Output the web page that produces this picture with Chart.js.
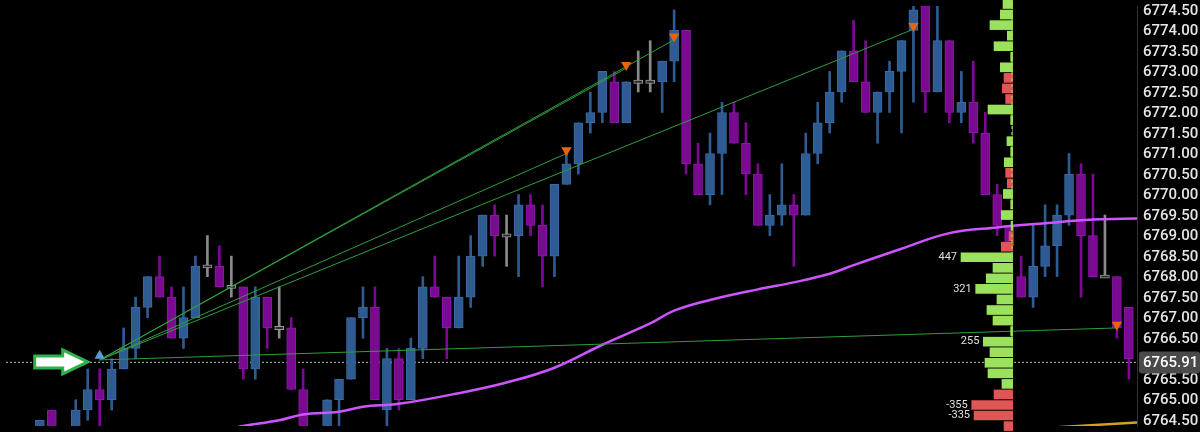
<!DOCTYPE html>
<html><head><meta charset="utf-8">
<script src="https://cdn.jsdelivr.net/npm/chart.js@4/dist/chart.umd.min.js"></script>
<style>html,body{margin:0;padding:0;background:#000;overflow:hidden}#wrap{position:relative;width:1200px;height:432px}canvas{position:absolute;left:0;top:0}</style>
</head><body><div id="wrap"><canvas id="main" width="1200" height="432"></canvas><canvas id="prof" width="1013" height="432"></canvas></div>
<script>
const opens =[6764.0,6764.75,null,6764.0,6764.75,6765.25,6765.0,6765.75,6766.25,6767.25,6768.0,6767.5,6766.5,6767.0,6768.25,6768.25,6767.75,6767.75,6765.75,6767.5,6766.75,6766.75,6765.25,null,6764.0,6765.0,6765.5,6767.0,6767.25,6764.75,6766.0,6765.0,6766.25,6767.75,6767.5,6766.75,6767.5,6768.5,6769.5,6769.0,6769.0,6769.75,6769.25,6768.5,6770.25,6770.75,6771.75,6772.0,6772.75,6771.75,6772.75,6772.75,6772.75,6773.25,6774.0,6770.75,6770.0,6771.0,6772.0,6771.25,6770.5,6769.25,6769.5,6769.75,6769.5,6771.0,6771.75,6772.5,6773.5,6772.75,6772.0,6772.5,6773.0,6774.0,6774.6,6772.5,6773.75,6772.0,6772.25,6771.5,6770.0,6769.25,6768.0,6767.5,6768.25,6768.75,6769.5,6770.5,6769.0,6768.0,6768.0,6767.25];
const closes=[6764.5,6764.0,null,6764.75,6765.25,6765.0,6765.75,6766.25,6767.25,6768.0,6767.5,6766.5,6767.0,6768.25,6768.25,6767.75,6767.75,6765.75,6767.5,6766.75,6766.75,6765.25,6764.0,null,6765.0,6765.5,6767.0,6767.25,6765.0,6766.0,6765.0,6766.25,6767.75,6767.5,6766.75,6767.5,6768.5,6769.5,6769.0,6769.0,6769.75,6769.25,6768.5,6770.25,6770.75,6771.75,6772.0,6773.0,6771.75,6772.75,6772.75,6772.75,6773.25,6774.0,6770.75,6770.0,6771.0,6772.0,6771.25,6770.5,6769.25,6769.5,6769.75,6769.5,6771.0,6771.75,6772.5,6773.5,6772.75,6772.0,6772.5,6773.0,6773.75,6774.5,6772.5,6773.75,6772.0,6772.25,6771.5,6770.0,6769.25,6768.75,6767.5,6768.25,6768.75,6769.5,6770.5,6769.0,6768.0,6768.0,6766.75,6766.0];
const highs =[6764.5,6764.75,null,6765.0,6765.75,6765.75,6766.0,6766.75,6767.5,6768.0,6768.5,6767.75,6767.75,6768.5,6769.0,6768.75,6768.5,6767.75,6767.75,6767.5,6767.75,6767.0,6765.75,null,6765.0,6765.5,6767.0,6767.75,6767.75,6766.25,6766.25,6766.5,6768.0,6768.5,6767.5,6768.5,6769.0,6769.5,6769.75,6769.5,6770.0,6770.0,6769.75,6770.25,6771.0,6771.75,6772.5,6773.0,6773.0,6772.75,6773.5,6773.75,6773.25,6774.5,6774.0,6771.25,6771.5,6772.25,6772.25,6771.75,6770.75,6770.0,6770.75,6770.0,6771.5,6772.25,6773.0,6773.5,6774.25,6773.75,6772.5,6773.25,6773.75,6774.6,6774.6,6774.6,6773.75,6773.0,6773.25,6772.0,6770.25,6769.25,6768.5,6769.25,6769.75,6769.75,6771.0,6770.75,6770.5,6769.5,6768.0,6767.25];
const lows  =[6764.0,6763.8,null,6763.8,6764.5,6764.0,6764.75,6765.75,6766.0,6767.0,6767.5,6766.5,6766.25,6767.0,6768.0,6767.75,6767.5,6765.5,6765.5,6766.25,6766.5,6765.25,6763.8,null,6763.8,6764.3,6765.5,6766.5,6765.0,6764.3,6764.75,6765.0,6766.0,6767.5,6766.0,6766.75,6767.25,6768.25,6768.5,6768.25,6768.0,6769.0,6767.75,6768.0,6770.25,6770.5,6771.5,6771.75,6771.75,6771.75,6772.5,6772.5,6772.0,6772.75,6770.5,6770.0,6769.75,6770.0,6771.25,6770.0,6769.25,6769.0,6769.25,6768.25,6769.5,6770.75,6771.5,6772.25,6772.75,6772.0,6771.25,6772.0,6771.5,6772.25,6772.0,6772.5,6771.75,6771.75,6771.25,6770.0,6769.0,6768.75,6767.5,6767.25,6768.0,6768.0,6769.25,6767.5,6768.0,6768.0,6766.5,6765.5];
const maIdx =[16,17,20,22,25,27,30,35,39,43,47,51,53,56,60,63,66,68,72,76,80,84,88,92];
const maVals=[6764.3,6764.36,6764.5,6764.64,6764.71,6764.83,6764.9,6765.16,6765.42,6765.78,6766.34,6766.86,6767.17,6767.43,6767.69,6767.86,6768.07,6768.28,6768.68,6769.06,6769.2,6769.3,6769.39,6769.42];
const signalIdx=5, signalPrice=6765.97;
const targetIdx=[44,49,53,73,90];
const targetPrices=[6771.0,6773.08,6773.77,6774.03,6766.75];
const lastPrice=6765.91;
const tickValues=[6764.5,6765.0,6765.5,6766.0,6766.5,6767.0,6767.5,6768.0,6768.5,6769.0,6769.5,6770.0,6770.5,6771.0,6771.5,6772.0,6772.5,6773.0,6773.5,6774.0,6774.5];
const profPrices=[6774.5,6774.25,6774.0,6773.75,6773.5,6773.25,6773.0,6772.75,6772.5,6772.25,6772.0,6771.75,6771.5,6771.25,6771.0,6770.75,6770.5,6770.25,6770.0,6769.75,6769.5,6769.25,6769.0,6768.75,6768.5,6768.25,6768.0,6767.75,6767.5,6767.25,6767.0,6766.75,6766.5,6766.25,6766.0,6765.75,6765.5,6765.25,6765.0,6764.75,6764.5];
const profVals=[86,109,198,49,163,20,109,-77,-92,-63,215,20,0,52,20,75,-63,-49,83,20,101,17,-34,-101,447,172,230,321,138,224,172,20,255,198,241,215,95,-163,-355,-335,-77];
const yMin=6764.36, yMax=6774.595, xMin=-2.83, xMax=91.68;

const BLUE='#2e5b92', PURPLE='#7b0a93', GRAY='#8a8a8a';
const idx=opens.map((_,i)=>i).filter(i=>opens[i]!=null);
const col=i=>closes[i]>opens[i]?BLUE:(closes[i]<opens[i]?PURPLE:GRAY);
const wickData=idx.map(i=>({x:i,y:[lows[i],highs[i]]}));
const bodyData=idx.map(i=>({x:i,y:opens[i]===closes[i]?[opens[i]-0.04,opens[i]+0.04]:[opens[i],closes[i]]}));
const trend=targetIdx.map((t,k)=>({type:'line',data:[{x:signalIdx,y:signalPrice},{x:t,y:targetPrices[k]}],borderColor:'#2f9e3c',borderWidth:1,pointRadius:0,order:2}));

const overlay={id:'ov',afterDatasetsDraw(ch){
  const c=ch.ctx,xs=ch.scales.x,ys=ch.scales.y;
  c.save();
  c.fillStyle='#e6e6e6';c.font='500 15px Roboto';c.textBaseline='middle';c.textAlign='left';
  tickValues.forEach(v=>c.fillText(v.toFixed(2),1143,ys.getPixelForValue(v)+1));
  const px=xs.getPixelForValue(signalIdx),py=ys.getPixelForValue(signalPrice)+2;
  c.beginPath();
  c.moveTo(px-12,py);c.lineTo(px-37,py-12);c.lineTo(px-37,py-6);c.lineTo(px-65,py-6);c.lineTo(px-65,py+6);c.lineTo(px-37,py+6);c.lineTo(px-37,py+12);c.closePath();
  c.fillStyle='#fff';c.fill();c.lineWidth=3;c.strokeStyle='#2db34a';c.stroke();
  const ly=ys.getPixelForValue(lastPrice);
  c.fillStyle='#4a4a4a';c.beginPath();c.roundRect(1139,ly-11,61,22,3);c.fill();
  c.fillStyle='#fff';c.fillText(lastPrice.toFixed(2),1143,ly+1);
  c.restore();
}};

new Chart(document.getElementById('main'),{
  type:'bar',
  data:{datasets:[
    {data:wickData,backgroundColor:idx.map(col),barThickness:2,grouped:false,order:6},
    {data:bodyData,backgroundColor:idx.map(i=>opens[i]===closes[i]?'#2a2a2a':col(i)),borderColor:idx.map(i=>opens[i]===closes[i]?'#9a9a9a':(col(i)===BLUE?'#3a6aa6':'#8a1aa3')),borderWidth:1,borderSkipped:false,barThickness:9,grouped:false,order:5},
    {type:'line',data:[{x:xMin,y:lastPrice},{x:xMax,y:lastPrice}],borderColor:'#9a9a9a',borderWidth:1.2,borderDash:[2,2],pointRadius:0,order:7},
    {type:'line',data:maIdx.map((v,k)=>({x:v,y:maVals[k]})),borderColor:'#cc55ff',borderWidth:2.5,tension:0.4,pointRadius:0,order:3},
    {type:'line',data:[{x:85,y:6764.33},{x:92,y:6764.45}],borderColor:'#d4a020',borderWidth:2.5,pointRadius:0,order:3},
    ...trend,
    {type:'scatter',data:[{x:signalIdx,y:signalPrice+0.1}],pointStyle:'triangle',radius:6,backgroundColor:'#5b9bd5',borderWidth:0,order:1},
    {type:'scatter',data:targetIdx.map((t,k)=>({x:t,y:targetPrices[k]+0.08})),pointStyle:'triangle',rotation:180,radius:6,backgroundColor:'#e8640c',borderWidth:0,order:1}
  ]},
  options:{responsive:false,animation:false,devicePixelRatio:1,
    layout:{padding:0},
    plugins:{legend:{display:false},tooltip:{enabled:false}},
    scales:{
      x:{type:'linear',min:xMin,max:xMax,offset:false,display:false},
      y:{position:'right',min:yMin,max:yMax,offset:false,
        afterFit:s=>{s.width=63;},
        grid:{display:false,drawTicks:false},border:{color:'#333',width:1},
        ticks:{display:false}}
    }},
  plugins:[overlay]
});

const profLabels={id:'pl',afterDatasetsDraw(ch){
  const c=ch.ctx,meta=ch.getDatasetMeta(0);
  c.save();
  c.strokeStyle='#8fd45a';c.setLineDash([3,3]);c.lineWidth=1.2;c.beginPath();c.moveTo(1012,0);c.lineTo(1012,340);c.stroke();c.setLineDash([]);
  c.font='11px Roboto';c.fillStyle='#e0e0e0';c.textAlign='right';c.textBaseline='middle';
  meta.data.forEach((b,k)=>{if(Math.abs(profVals[k])>=250)c.fillText(String(profVals[k]),b.x-4,b.y);});
  c.restore();
}};
new Chart(document.getElementById('prof'),{
  type:'bar',
  data:{datasets:[{data:profPrices.map((p,k)=>({y:p,x:Math.abs(profVals[k])})),
    backgroundColor:profVals.map(v=>v>0?'#9be15d':(v<0?'#e05555':'#8a8a8a')),barThickness:9,minBarLength:1}]},
  options:{indexAxis:'y',responsive:false,animation:false,devicePixelRatio:1,layout:{padding:0},
    plugins:{legend:{display:false},tooltip:{enabled:false}},
    scales:{x:{type:'linear',min:0,max:8712,reverse:true,display:false,offset:false},
            y:{type:'linear',min:yMin,max:yMax,display:false,offset:false}}},
  plugins:[profLabels]
});
</script></body></html>
